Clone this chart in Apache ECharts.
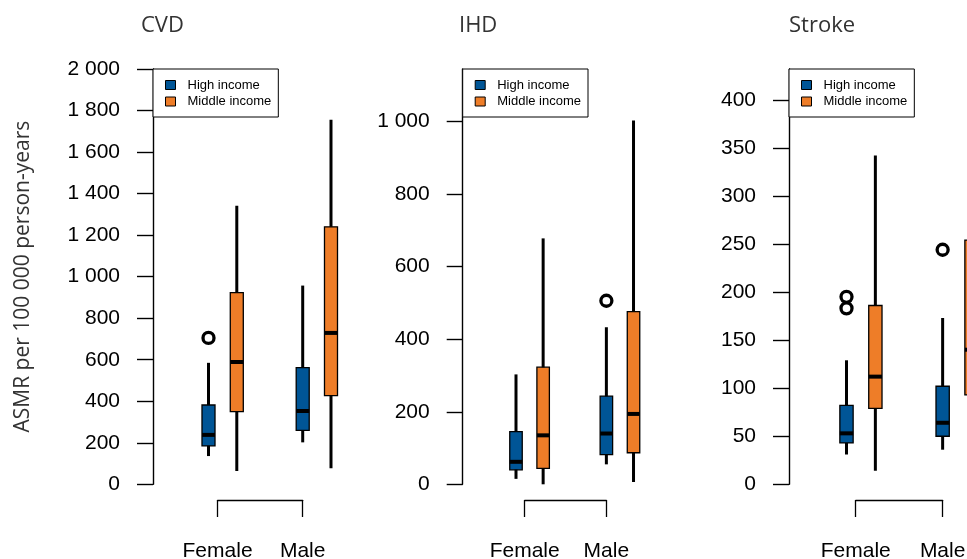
<!DOCTYPE html>
<html>
<head>
<meta charset="utf-8">
<script src="https://cdn.jsdelivr.net/npm/echarts@6/dist/echarts.min.js"></script>
<style>
html,body{margin:0;padding:0;background:#fff;}
#chart{width:967px;height:559px;}
</style>
</head>
<body>
<div id="chart"></div>
<script>
// ---------- data ----------
const panelNames = ['CVD', 'IHD', 'Stroke'];
const sexes = ['Female', 'Male'];
const incomeGroups = ['High income', 'Middle income'];
const yAxisTitle = 'ASMR per 100 000 person-years';

// [lower whisker, Q1, median, Q3, upper whisker] for Female, Male
const cvdHigh = [[136, 185, 238, 382, 585], [202, 260, 353, 562, 957]];
const cvdMiddle = [[64, 350, 589, 923, 1341], [77, 427, 729, 1240, 1756]];
const ihdHigh = [[15, 40, 62, 145, 303], [55, 82, 140, 243, 433]];
const ihdMiddle = [[0, 44, 135, 323, 678], [6, 87, 194, 476, 1003]];
const strokeHigh = [[31, 43, 53, 82, 129], [36, 50, 64, 102, 173]];
const strokeMiddle = [[14, 79, 112, 186, 342], [20, 93, 140, 254, 420]];

// outliers: [sex index, value] (high income only)
const cvdHighOutliers = [[0, 705]];
const ihdHighOutliers = [[1, 506]];
const strokeHighOutliers = [[0, 183], [0, 195], [1, 244]];

// tick labels
const cvdTicks = [0, 200, 400, 600, 800, 1000, 1200, 1400, 1600, 1800, 2000];
const ihdTicks = [0, 200, 400, 600, 800, 1000];
const strokeTicks = [0, 50, 100, 150, 200, 250, 300, 350, 400];

// ---------- layout (not data) ----------
const layout = [
  { axisX: 153, firstBox: 208.5, unit: 28.29, span: 8, yMax: 2000, titleLeft: 141 },
  { axisX: 462.7, firstBox: 516, unit: 27.14, span: 8, yMax: 1145, titleLeft: 459 },
  { axisX: 789, firstBox: 846.5, unit: 28.87, span: 6, yMax: 432, titleLeft: 789 }
];
const boxOffset = [[0, 3.33], [1, 4.33]]; // [income][sex] in box units
const labelOffset = [0.32, 3.33];
const boxWidth = 0.46;
const plotTop = 69, plotHeight = 415.3;
const colors = ['#005596', '#EE7D28'];
const tickFont = 'Liberation Sans, Arial, sans-serif';
const titleFont = 'Open Sans, Noto Sans, sans-serif';

const stats = [[cvdHigh, cvdMiddle], [ihdHigh, ihdMiddle], [strokeHigh, strokeMiddle]];
const outliers = [cvdHighOutliers, ihdHighOutliers, strokeHighOutliers];
const ticks = [cvdTicks, ihdTicks, strokeTicks];

const fmt = v => String(v).replace(/\B(?=(\d{3})+(?!\d))/g, ' ');

function renderBox(params, api) {
  const x = api.value(0);
  const lo = api.value(1), q1 = api.value(2), med = api.value(3), q3 = api.value(4), hi = api.value(5);
  const pLo = api.coord([x, lo]), pHi = api.coord([x, hi]);
  const pQ1 = api.coord([x, q1]), pQ3 = api.coord([x, q3]), pMed = api.coord([x, med]);
  const half = api.size([boxWidth, 0])[0] / 2;
  const cx = pLo[0];
  return {
    type: 'group',
    children: [
      { type: 'line', shape: { x1: cx, y1: pLo[1], x2: cx, y2: pHi[1] }, style: { stroke: '#000', lineWidth: 3 } },
      { type: 'rect', shape: { x: cx - half, y: pQ3[1], width: 2 * half, height: pQ1[1] - pQ3[1] },
        style: { fill: api.visual('color'), stroke: '#000', lineWidth: 1.3 } },
      { type: 'line', shape: { x1: cx - half, y1: pMed[1], x2: cx + half, y2: pMed[1] }, style: { stroke: '#000', lineWidth: 4 } }
    ]
  };
}

const grids = [], xAxes = [], yAxes = [], series = [], titles = [], legends = [];

layout.forEach((l, i) => {
  const xmin = -(l.firstBox - l.axisX) / l.unit;
  grids.push({ left: l.axisX, top: plotTop, width: l.span * l.unit, height: plotHeight,
    outerBoundsMode: 'none', containLabel: false });
  xAxes.push({ gridIndex: i, type: 'value', min: xmin, max: xmin + l.span, show: false,
    axisLine: { onZero: false } });
  const yA = {
    gridIndex: i, type: 'value', min: 0, max: l.yMax, position: 'left',
    axisLine: { show: true, onZero: false, lineStyle: { color: '#000', width: 1.4 } },
    axisTick: { show: true, length: 16, customValues: ticks[i], lineStyle: { color: '#000', width: 1.4 } },
    axisLabel: { customValues: ticks[i], formatter: fmt, margin: 33, color: '#000', fontSize: 21, fontFamily: tickFont },
    splitLine: { show: false }
  };
  if (i === 0) {
    Object.assign(yA, {
      name: yAxisTitle, nameLocation: 'middle', nameRotate: 90, nameGap: 119,
      nameTextStyle: { fontFamily: titleFont, fontSize: 21, color: '#333' }
    });
  }
  yAxes.push(yA);

  incomeGroups.forEach((g, k) => {
    series.push({
      type: 'custom', name: g, xAxisIndex: i, yAxisIndex: i, clip: false,
      itemStyle: { color: colors[k] },
      encode: { x: 0, y: [1, 2, 3, 4, 5] },
      data: stats[i][k].map((s, j) => [boxOffset[k][j]].concat(s)),
      renderItem: renderBox, z: 2
    });
  });
  series.push({
    type: 'scatter', name: 'outliers', xAxisIndex: i, yAxisIndex: i,
    symbol: 'circle', symbolSize: 11,
    itemStyle: { color: 'rgba(0,0,0,0)', borderColor: '#000', borderWidth: 3.3, opacity: 1 },
    data: outliers[i].map(([s, v]) => [boxOffset[0][s], v]), z: 3
  });

  titles.push({
    text: panelNames[i], left: l.titleLeft, top: 15, padding: 0,
    textStyle: { fontFamily: titleFont, fontSize: 22, fontWeight: 'normal', color: '#333' }
  });

  legends.push({
    data: incomeGroups, orient: 'vertical', left: l.axisX, top: plotTop,
    icon: 'rect', itemWidth: 10, itemHeight: 9, itemGap: 2.5,
    padding: [9, 7, 8.5, 12], borderColor: '#000', borderWidth: 1, borderRadius: 0,
    backgroundColor: '#fff', selectedMode: false, z: 10,
    itemStyle: { borderColor: '#000', borderWidth: 1 },
    textStyle: { fontSize: 13, lineHeight: 14, fontFamily: tickFont, color: '#000', padding: [0, 0, 0, 7] }
  });
});

// bracket axes below each panel
layout.forEach((l, i) => {
  const gi = grids.length;
  grids.push({
    left: l.firstBox + labelOffset[0] * l.unit, top: 490,
    width: (labelOffset[1] - labelOffset[0]) * l.unit, height: 10,
    outerBoundsMode: 'none', containLabel: false
  });
  xAxes.push({
    gridIndex: gi, type: 'category', data: sexes, boundaryGap: false,
    axisLine: { show: true, onZero: false, lineStyle: { color: '#000', width: 1.3 } },
    axisTick: { show: true, length: 17, lineStyle: { color: '#000', width: 1.3 } },
    axisLabel: { margin: 41, color: '#000', fontSize: 21, fontFamily: tickFont, interval: 0 },
    splitLine: { show: false }
  });
  yAxes.push({ gridIndex: gi, type: 'value', show: false });
});

const chart = echarts.init(document.getElementById('chart'), null, { renderer: 'canvas' });
chart.setOption({
  animation: false,
  backgroundColor: '#fff',
  title: titles,
  legend: legends,
  grid: grids,
  xAxis: xAxes,
  yAxis: yAxes,
  series: series
});
</script>
</body>
</html>
